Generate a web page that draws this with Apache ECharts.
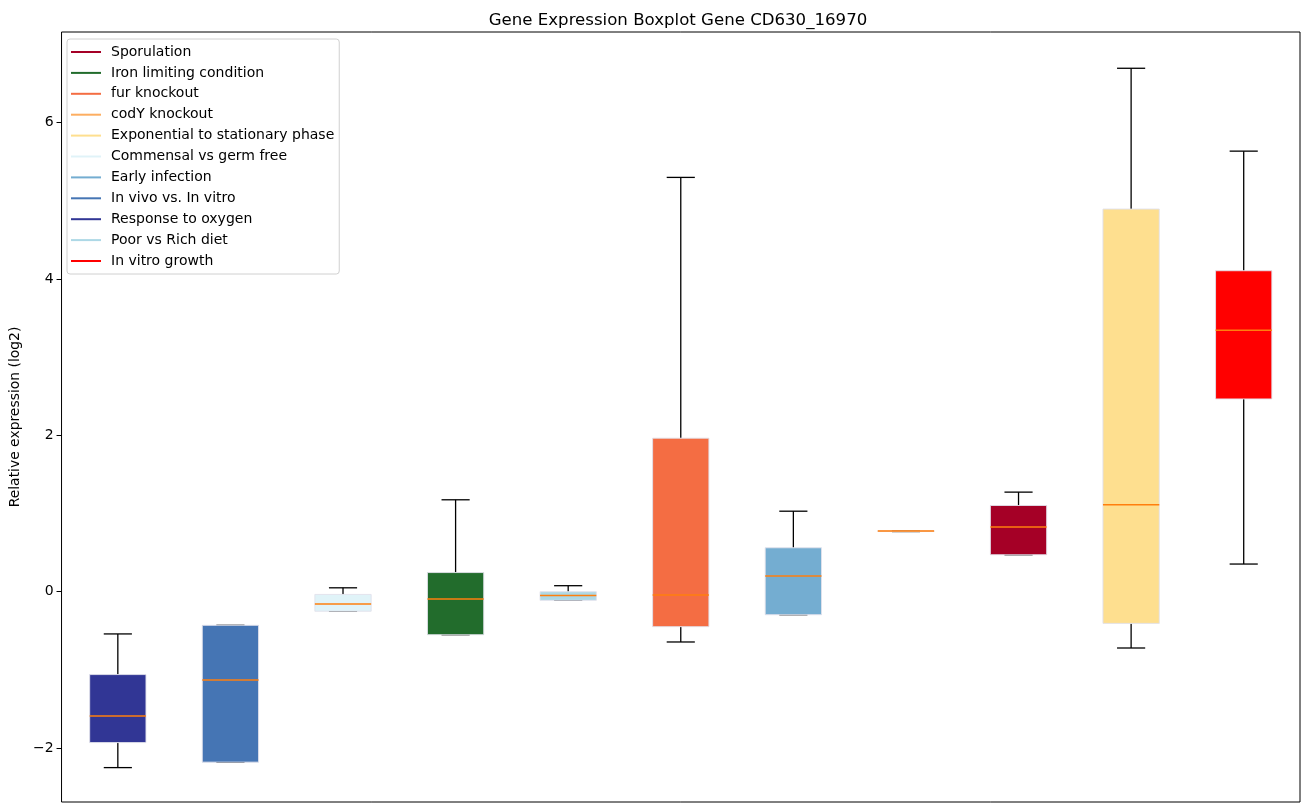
<!DOCTYPE html>
<html>
<head>
<meta charset="utf-8">
<script src="https://cdn.jsdelivr.net/npm/echarts@6/dist/echarts.min.js"></script>
<style>
  html, body { margin: 0; padding: 0; background: #fff; }
  #chart { width: 1309px; height: 812px; }
</style>
</head>
<body>
<div id="chart"></div>
<script>
// boxes in x order, values as [min, q1, median, q3, max]
const categories = [
  'Response to oxygen', 'In vivo vs. In vitro', 'Commensal vs germ free',
  'Iron limiting condition', 'Poor vs Rich diet', 'fur knockout',
  'Early infection', 'codY knockout', 'Sporulation',
  'Exponential to stationary phase', 'In vitro growth'
];
const boxValues = [
  [-2.25, -1.93, -1.59, -1.06, -0.54],
  [-2.18, -2.18, -1.13, -0.43, -0.43],
  [-0.25, -0.25, -0.157, -0.035, 0.05],
  [-0.55, -0.55, -0.094, 0.245, 1.176],
  [-0.11, -0.11, -0.05, 0.0, 0.077],
  [-0.643, -0.447, -0.042, 1.964, 5.30],
  [-0.294, -0.294, 0.20, 0.562, 1.03],
  [0.77, 0.77, 0.776, 0.78, 0.78],
  [0.473, 0.473, 0.827, 1.103, 1.274],
  [-0.72, -0.405, 1.112, 4.895, 6.696],
  [0.354, 2.466, 3.344, 4.106, 5.636]
];
const boxColors = [
  '#313695', '#4575b4', '#e0f3f8', '#226c2c', '#add8e6', '#f46d43',
  '#74add1', '#fdae61', '#a50026', '#fedf8f', '#ff0000'
];
// legend order as in the original figure
const legendOrder = [
  'Sporulation', 'Iron limiting condition', 'fur knockout', 'codY knockout',
  'Exponential to stationary phase', 'Commensal vs germ free', 'Early infection',
  'In vivo vs. In vitro', 'Response to oxygen', 'Poor vs Rich diet', 'In vitro growth'
];
const yTicks = [-2, 0, 2, 4, 6];

const chart = echarts.init(document.getElementById('chart'));

function renderBox(params, api) {
  const x = api.value(0);
  const lo = api.coord([x, api.value(1)]);
  const q1 = api.coord([x, api.value(2)]);
  const med = api.coord([x, api.value(3)]);
  const q3 = api.coord([x, api.value(4)]);
  const hi = api.coord([x, api.value(5)]);
  const band = api.size([1, 0])[0];
  const bw = band * 0.5;
  const cw = band * 0.25;
  const cx = med[0];
  const black = { stroke: '#000', lineWidth: 1.3 };
  return {
    type: 'group',
    children: [
      { type: 'line', shape: { x1: cx, y1: q3[1], x2: cx, y2: hi[1] }, style: black },
      { type: 'line', shape: { x1: cx, y1: q1[1], x2: cx, y2: lo[1] }, style: black },
      { type: 'line', shape: { x1: cx - cw / 2, y1: hi[1], x2: cx + cw / 2, y2: hi[1] }, style: black },
      { type: 'line', shape: { x1: cx - cw / 2, y1: lo[1], x2: cx + cw / 2, y2: lo[1] }, style: black },
      {
        type: 'rect',
        shape: { x: cx - bw / 2, y: q3[1], width: bw, height: Math.max(q1[1] - q3[1], 0.5) },
        style: { fill: api.visual('color'), stroke: 'rgba(225,225,235,0.9)', lineWidth: 1 }
      },
      { type: 'line', shape: { x1: cx - bw / 2, y1: med[1], x2: cx + bw / 2, y2: med[1] },
        style: { stroke: '#ff7f0e', lineWidth: 1.5 } }
    ]
  };
}

const series = categories.map((name, i) => ({
  name: name,
  type: 'custom',
  renderItem: renderBox,
  itemStyle: { color: boxColors[i] },
  encode: { x: 0, y: [1, 2, 3, 4, 5] },
  data: [[i].concat(boxValues[i])],
  z: 2
}));

chart.setOption({
  animation: false,
  backgroundColor: '#fff',
  textStyle: { fontFamily: 'DejaVu Sans' },
  title: {
    text: 'Gene Expression Boxplot Gene CD630_16970',
    left: 673,
    textAlign: 'center',
    top: 7,
    textStyle: { fontSize: 16.6, fontWeight: 'normal', color: '#000', fontFamily: 'DejaVu Sans' }
  },
  legend: {
    data: legendOrder,
    orient: 'vertical',
    left: 67,
    top: 39,
    padding: [5, 5, 5, 4],
    itemGap: 4.9,
    itemWidth: 30,
    itemHeight: 2,
    icon: 'rect',
    backgroundColor: 'rgba(255,255,255,0.8)',
    borderColor: '#d0d0d0',
    borderWidth: 1,
    borderRadius: 3,
    selectedMode: false,
    textStyle: { fontSize: 14, color: '#000', lineHeight: 16, padding: [0, 0, 0, 5] }
  },
  grid: {
    left: 61, right: 9, top: 32, bottom: 10,
    show: true, borderColor: '#000', borderWidth: 1
  },
  xAxis: {
    type: 'category',
    data: categories,
    boundaryGap: true,
    axisLine: { show: false },
    axisTick: { show: false },
    axisLabel: { show: false },
    splitLine: { show: false }
  },
  yAxis: {
    type: 'value',
    min: -2.69,
    max: 7.16,
    splitNumber: 5,
    name: 'Relative expression (log2)',
    nameLocation: 'middle',
    nameGap: 38,
    nameTextStyle: { fontSize: 13.9, color: '#000' },
    axisLine: { show: false },
    axisTick: { show: true, length: 5, lineStyle: { color: '#000' },
      customValues: yTicks },
    axisLabel: {
      fontSize: 14, color: '#000', margin: 8,
      customValues: yTicks,
      formatter: v => (v < 0 ? '\u2212' + Math.abs(v) : String(v))
    },
    splitLine: { show: false }
  },
  series: series
});
</script>
</body>
</html>
